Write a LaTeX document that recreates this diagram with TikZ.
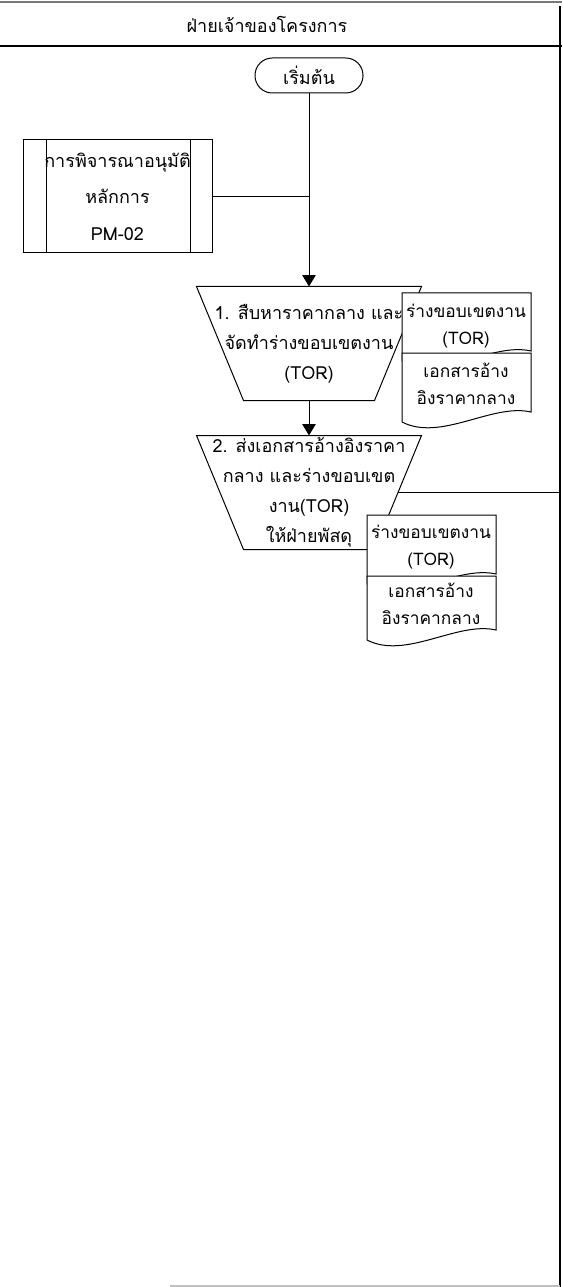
\documentclass[tikz,border=0pt]{standalone}
\usepackage{fontspec}
\newfontfamily\thaifont[Script=Thai]{Loma}
\usetikzlibrary{shapes,arrows.meta,positioning}
\definecolor{lanegray}{RGB}{120,120,120}

% document sheet with a wavy foot: left, right, top, foot
\newcommand{\docsheet}[4]{%
  \draw[fill=white] (#1,#3) -- (#2,#3) -- (#2,#4)
    .. controls ({#2-0.3*(#2-#1)},{#4-9}) and ({#1+0.3*(#2-#1)},{#4+30}) .. (#1,{#4+10}) -- cycle;}
% manual operation outline round a named node
\newcommand{\manualoutline}[1]{%
  \draw (#1.north west) -- (#1.north east) -- ([xshift=-35.25pt]#1.south east)
    -- ([xshift=35.25pt]#1.south west) -- cycle;}

\tikzset{
  thai/.style={font=\thaifont\fontsize{13.5}{22.5}\selectfont, align=center},
  terminal/.style={thai, draw, rectangle, rounded corners=13pt, minimum width=81pt, minimum height=26.25pt, inner sep=0pt},
  subproc/.style={thai, draw, rectangle, minimum width=141.75pt, minimum height=84.75pt, inner sep=0pt},
  manual/.style={thai, rectangle, minimum width=168pt, minimum height=84.75pt, inner sep=0pt},
  doctext/.style={thai, font=\thaifont\fontsize{13}{20.25}\selectfont, inner sep=0pt},
  flow/.style={-{Triangle[length=8.5pt,width=10pt]}, line width=0.75pt},
  link/.style={line width=0.75pt}
}

\begin{document}
\begin{tikzpicture}[x=0.75pt, y=-0.75pt, line width=0.75pt]
\useasboundingbox (0,0) rectangle (562,1287);

% swimlane frame
\draw[lanegray, line width=1.5pt] (0,2) -- (562,2);
\draw[line width=1.5pt] (0,46) -- (562,46);
\draw[line width=1.5pt] (560,6) -- (560,1287);
\draw[gray!50, line width=1pt] (170,1286) -- (560,1286);
\node[thai] (lane) at (267,24) {ฝ่ายเจ้าของโครงการ};

\node[terminal] (start) at (309,75.5) {เริ่มต้น};

\node[subproc] (pm02) at (117.5,196.5) {การพิจารณาอนุมัติ\\[5pt]หลักการ\\[5pt]PM-02};
\draw (46,140) -- (46,253);
\draw (190,140) -- (190,253);

\node[manual] (step1) at (309,343.5) {1. สืบหาราคากลาง และ\\จัดทำร่างขอบเขตงาน\\(TOR)};
\manualoutline{step1}
\node[manual] (step2) at (309,492.5) {2. ส่งเอกสารอ้างอิงราคา\\กลาง และร่างขอบเขต\\งาน(TOR)\\ให้ฝ่ายพัสดุ};
\manualoutline{step2}

% documents beside the steps
\docsheet{402}{531}{293}{351}
\docsheet{402}{531}{353}{412}
\node[doctext] (doc1a) at (466,326.5) {ร่างขอบเขตงาน\\(TOR)};
\node[doctext] (doc1b) at (466,383.5) {เอกสารอ้าง\\อิงราคากลาง};

\docsheet{367}{496}{515}{574}
\docsheet{367}{496}{576}{630}
\node[doctext] (doc2a) at (431,547.5) {ร่างขอบเขตงาน\\(TOR)};
\node[doctext] (doc2b) at (431,603.5) {เอกสารอ้าง\\อิงราคากลาง};

\coordinate (laneout) at (560,492.5);

\draw[flow] (start.south) -- (step1.north);
\draw[link] (pm02.east) -- (pm02.east -| start.south);
\draw[flow] (step1.south) -- (step2.north);
\draw[link] ([xshift=-17.6pt]step2.east) -- (laneout);
\end{tikzpicture}
\end{document}
